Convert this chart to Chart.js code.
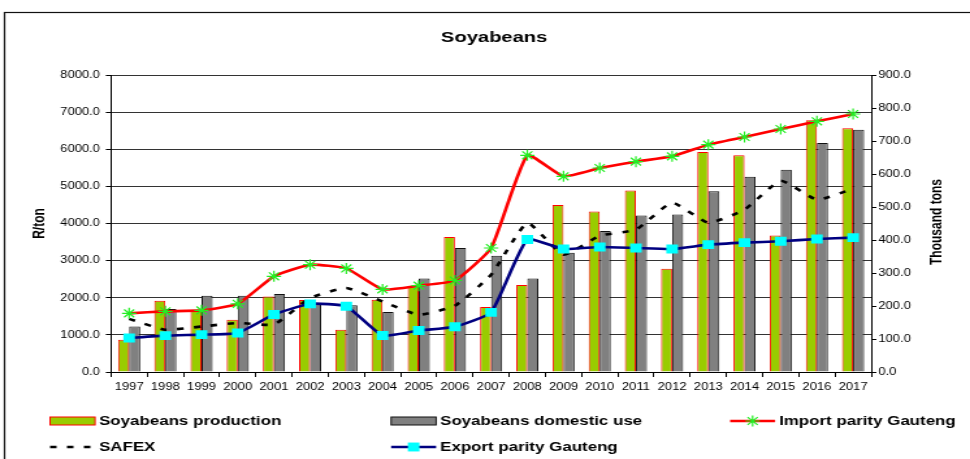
<!DOCTYPE html>
<html>
<head>
<meta charset="utf-8">
<title>Soyabeans</title>
<script src="https://cdn.jsdelivr.net/npm/chart.js@4.4.1/dist/chart.umd.min.js"></script>
<style>
  body { margin: 0; background: #fff; overflow: hidden; }
  /* the reference picture is stretched sideways, so the whole canvas is too */
  #wrap { width: 746px; height: 459px; transform: scaleX(1.3003); transform-origin: 0 0; }
</style>
</head>
<body>
<div id="wrap"><canvas id="grafico" width="746" height="459"></canvas></div>
<script>
const anos = ['1997', '1998', '1999', '2000', '2001', '2002', '2003', '2004', '2005', '2006', '2007',
  '2008', '2009', '2010', '2011', '2012', '2013', '2014', '2015', '2016', '2017'];

// thousand tons (right axis)
const producao = [98, 216, 189, 158, 229, 218, 128, 219, 259, 409, 197, 264, 506, 486, 550, 313, 667, 657, 414, 763, 739];
const consumo = [138, 191, 231, 231, 236, 208, 202, 182, 283, 376, 352, 283, 361, 427, 474, 477, 548, 592, 613, 694, 734];

// R/ton (left axis)
const importParity = [1580, 1634, 1660, 1836, 2577, 2890, 2790, 2225, 2326, 2464, 3340, 5836, 5271, 5495, 5666, 5809, 6124, 6330, 6546, 6752, 6950];
const safex = [1430, 1140, 1225, 1320, 1280, 1993, 2262, 1900, 1543, 1786, 2620, 4013, 3160, 3670, 3833, 4560, 4020, 4372, 5153, 4641, 4937];
const exportParity = [916, 979, 1006, 1051, 1550, 1836, 1769, 982, 1117, 1220, 1606, 3570, 3313, 3367, 3340, 3313, 3430, 3484, 3520, 3583, 3619];

const fonte = "'Liberation Sans', Arial, sans-serif";

// title, right axis title, frame and legend drawn on the canvas
const extras = {
  id: 'extras',
  afterDraw(chart) {
    const ctx = chart.ctx;
    ctx.save();

    ctx.strokeStyle = '#111';
    ctx.lineWidth = 1.2;
    ctx.strokeRect(3.5, 12.5, 760, 460);

    ctx.fillStyle = '#000';
    ctx.textAlign = 'center';
    ctx.textBaseline = 'middle';
    ctx.font = 'bold 15.5px ' + fonte;
    ctx.fillText('Soyabeans', 380, 37.5);

    ctx.save();
    ctx.translate(720.8, 222);
    ctx.rotate(-Math.PI / 2);
    ctx.font = 'bold 12px ' + fonte;
    ctx.fillText('Thousand tons', 0, 0);
    ctx.restore();

    const ds = chart.data.datasets;
    const posicoes = [
      [0, 38.5, 421], [1, 300.8, 421], [2, 561.5, 421],
      [3, 38.5, 447], [4, 300.8, 447]
    ];
    const larg = 34.6;
    posicoes.forEach(([i, x, y]) => {
      const d = ds[i];
      if (d.type === 'bar') {
        ctx.fillStyle = d.backgroundColor;
        ctx.fillRect(x, y - 4, larg, 8);
        ctx.strokeStyle = d.borderColor;
        ctx.lineWidth = 1;
        ctx.strokeRect(x, y - 4, larg, 8);
      } else {
        ctx.strokeStyle = d.borderColor;
        ctx.lineWidth = d.borderWidth;
        ctx.setLineDash(d.borderDash || []);
        ctx.beginPath();
        ctx.moveTo(x, y);
        ctx.lineTo(x + larg, y);
        ctx.stroke();
        ctx.setLineDash([]);
        if (d.pointRadius > 0) {
          ctx.fillStyle = d.pointBackgroundColor;
          ctx.strokeStyle = d.pointBorderColor;
          ctx.lineWidth = d.pointBorderWidth;
          Chart.helpers.drawPoint(ctx, {
            pointStyle: d.pointStyle, radius: d.pointRadius, rotation: 0, borderWidth: d.pointBorderWidth
          }, x + larg / 2, y);
        }
      }
      ctx.fillStyle = '#000';
      ctx.textAlign = 'left';
      ctx.textBaseline = 'middle';
      ctx.font = 'bold 13px ' + fonte;
      ctx.fillText(d.label, x + 37.7, y);
    });

    ctx.restore();
  }
};

const ctx = document.getElementById('grafico').getContext('2d');
const grafico = new Chart(ctx, {
  type: 'bar',
  data: {
    labels: anos,
    datasets: [
      {
        type: 'bar', label: 'Soyabeans production', data: producao, yAxisID: 'y1',
        backgroundColor: '#99cc00', borderColor: '#ff0000', borderWidth: 1,
        categoryPercentage: 0.61, barPercentage: 1, order: 2
      },
      {
        type: 'bar', label: 'Soyabeans domestic use', data: consumo, yAxisID: 'y1',
        backgroundColor: '#808080', borderColor: '#111111', borderWidth: 1,
        categoryPercentage: 0.61, barPercentage: 1, order: 2
      },
      {
        type: 'line', label: 'Import parity Gauteng', data: importParity, yAxisID: 'y',
        borderColor: '#ff0000', borderWidth: 2.6, tension: 0.15,
        pointStyle: 'star', pointRadius: 5.5, pointBorderColor: '#22ee22',
        pointBackgroundColor: '#22ee22', pointBorderWidth: 1.2, order: 0
      },
      {
        type: 'line', label: 'SAFEX', data: safex, yAxisID: 'y',
        borderColor: '#000000', borderWidth: 2.6, borderDash: [5, 8], tension: 0.15,
        pointRadius: 0, order: 1
      },
      {
        type: 'line', label: 'Export parity Gauteng', data: exportParity, yAxisID: 'y',
        borderColor: '#000080', borderWidth: 2.6, tension: 0.15,
        pointStyle: 'rect', pointRadius: 6.3, pointBorderColor: '#00ffff',
        pointBackgroundColor: '#00ffff', pointBorderWidth: 0, order: 0
      }
    ]
  },
  options: {
    responsive: false,
    animation: false,
    layout: { padding: { left: 19, right: 0, top: 75, bottom: 62 } },
    plugins: {
      legend: { display: false },
      tooltip: { enabled: false },
      title: { display: false }
    },
    scales: {
      x: {
        afterFit: (s) => { s.height = 25; },
        grid: { display: true, drawOnChartArea: false, drawTicks: true, tickLength: 5, color: '#000' },
        border: { color: '#000', width: 1 },
        ticks: { color: '#000', font: { family: fonte, size: 10 }, padding: 4, maxRotation: 0, autoSkip: false }
      },
      y: {
        position: 'left', min: 0, max: 8000,
        afterFit: (s) => { s.width = 66.4; },
        grid: { color: '#333', lineWidth: 1, tickLength: 4, tickColor: '#000' },
        border: { color: '#000', width: 1 },
        ticks: { stepSize: 1000, color: '#000', padding: 4.5, font: { family: fonte, size: 10 },
          callback: (v) => v.toFixed(1) },
        title: { display: true, text: 'R/ton', color: '#000', font: { family: fonte, size: 12, weight: 'bold' } }
      },
      y1: {
        position: 'right', min: 0, max: 900,
        afterFit: (s) => { s.width = 76; },
        grid: { drawOnChartArea: false, tickLength: 4, color: '#000' },
        border: { color: '#000', width: 1 },
        ticks: { stepSize: 100, color: '#000', padding: 1.5, font: { family: fonte, size: 10 },
          callback: (v) => v.toFixed(1) }
      }
    }
  },
  plugins: [extras]
});
</script>
</body>
</html>
